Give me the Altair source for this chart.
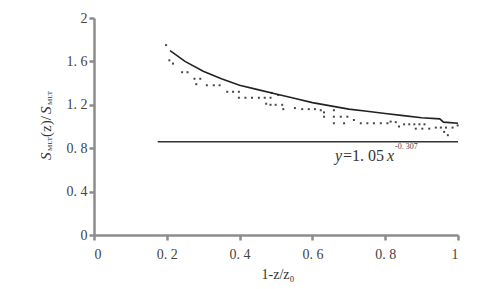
import altair as alt
import pandas as pd

# fitted curve
curve_x = [0.209, 0.25, 0.30, 0.35, 0.40, 0.45, 0.50, 0.55, 0.60, 0.65, 0.70, 0.75, 0.80, 0.85, 0.90, 0.95, 0.96, 1.00]
curve_y = [1.70, 1.60, 1.51, 1.44, 1.38, 1.34, 1.30, 1.26, 1.22, 1.19, 1.16, 1.14, 1.12, 1.10, 1.08, 1.07, 1.04, 1.03]

dot_x = [0.198, 0.207, 0.217, 0.242, 0.257, 0.276, 0.292, 0.281, 0.310, 0.329, 0.345, 0.366, 0.382, 0.398,
         0.398, 0.416, 0.434, 0.453, 0.469, 0.485, 0.488, 0.506, 0.473, 0.485, 0.499, 0.517, 0.520,
         0.552, 0.572, 0.590, 0.607, 0.623, 0.632, 0.659, 0.632, 0.659, 0.678, 0.696, 0.714, 0.659,
         0.687, 0.733, 0.751, 0.769, 0.788, 0.806, 0.815, 0.829, 0.838, 0.852, 0.866, 0.880, 0.894,
         0.908, 0.884, 0.902, 0.921, 0.939, 0.953, 0.967, 0.985, 0.962, 0.972, 0.999]
dot_y = [1.75, 1.61, 1.58, 1.50, 1.50, 1.44, 1.44, 1.39, 1.38, 1.38, 1.38, 1.32, 1.32, 1.32,
         1.265, 1.265, 1.265, 1.265, 1.265, 1.265, 1.31, 1.29, 1.21, 1.20, 1.20, 1.20, 1.16,
         1.17, 1.16, 1.16, 1.16, 1.15, 1.13, 1.15, 1.09, 1.09, 1.09, 1.09, 1.06, 1.03,
         1.03, 1.03, 1.03, 1.03, 1.03, 1.03, 1.045, 1.04, 1.00, 1.02, 1.02, 1.02, 1.02,
         1.02, 0.98, 0.98, 0.98, 0.99, 0.99, 0.99, 0.99, 0.95, 0.92, 1.01]

# horizontal reference line
ref_x = [0.175]
ref_x2 = [1.0]
ref_y = [0.86]

x_ticks = [0, 0.2, 0.4, 0.6, 0.8, 1.0]
y_ticks = [0, 0.4, 0.8, 1.2, 1.6, 2.0]

SERIF = "Liberation Serif"
label_expr = "datum.value % 1 == 0 ? format(datum.value, 'd') : replace(format(datum.value, '.1f'), '.', '. ')"

curve_df = pd.DataFrame({"x": curve_x, "y": curve_y})
dot_df = pd.DataFrame({"x": dot_x, "y": dot_y})
ref_df = pd.DataFrame({"x": ref_x, "x2": ref_x2, "y": ref_y})

xs = alt.Scale(domain=[0, 1], nice=False, zero=False)
ys = alt.Scale(domain=[0, 2], nice=False, zero=False)

axis_common = dict(
    domainColor="#8c8c8c", domainWidth=2.5, tickColor="#8c8c8c", tickWidth=2.5,
    labelFont=SERIF, labelFontSize=14, labelColor="#444444", grid=False, title=None,
)

base_line = alt.Chart(curve_df).mark_line(color="#222222", strokeWidth=1.6).encode(
    x=alt.X("x:Q", scale=xs, axis=alt.Axis(values=x_ticks, labelExpr=label_expr, tickSize=5,
                                            labelPadding=7, **axis_common)),
    y=alt.Y("y:Q", scale=ys, axis=alt.Axis(values=y_ticks, labelExpr=label_expr, tickSize=5,
                                            labelPadding=2, **axis_common)),
)

dots = alt.Chart(dot_df).mark_square(color="#333333", size=4, opacity=0.9).encode(
    x=alt.X("x:Q", scale=xs), y=alt.Y("y:Q", scale=ys)
)

ref = alt.Chart(ref_df).mark_rule(color="#333333", strokeWidth=1.5).encode(
    x=alt.X("x:Q", scale=xs), x2="x2:Q", y=alt.Y("y:Q", scale=ys)
)

def txt(t, x, y, size, style="normal", angle=0, align="left", color="#333333"):
    return alt.Chart(pd.DataFrame({"t": [t]})).mark_text(
        font=SERIF, fontSize=size, fontStyle=style, align=align, baseline="middle",
        angle=angle, color=color
    ).encode(x=alt.value(x), y=alt.value(y), text="t:N")

# equation annotation (pixel offsets relative to plot area)
eq = [
    txt("y", 241, 138, 16, "italic"),
    txt("=1. 05", 249, 138, 16),
    txt("x", 293, 138, 16, "italic"),
    txt("-0. 307", 301, 129, 8, color="#444444"),
]

# y-axis title pieces (rotated)
ytitle = [
    txt("S", -48, 142, 15, "italic", 270, "left"),
    txt("MLT", -44, 133, 7, "normal", 270, "left"),
    txt("(z)/", -48, 119, 15, "normal", 270, "left"),
    txt("S", -48, 96, 15, "italic", 270, "left"),
    txt("MLT", -44, 87, 7, "normal", 270, "left"),
]

xtitle = [txt("1-z/z₀", 184, 257, 14, "normal", 0, "center")]

chart = alt.layer(ref, dots, base_line, *eq, *ytitle, *xtitle).properties(
    width=364, height=217,
    autosize=alt.AutoSizeParams(type="none"),
    padding={"left": 94, "top": 18, "right": 42, "bottom": 54},
).configure_view(stroke=None)

chart.save("out.html", embed_options={"renderer": "svg", "actions": False})
